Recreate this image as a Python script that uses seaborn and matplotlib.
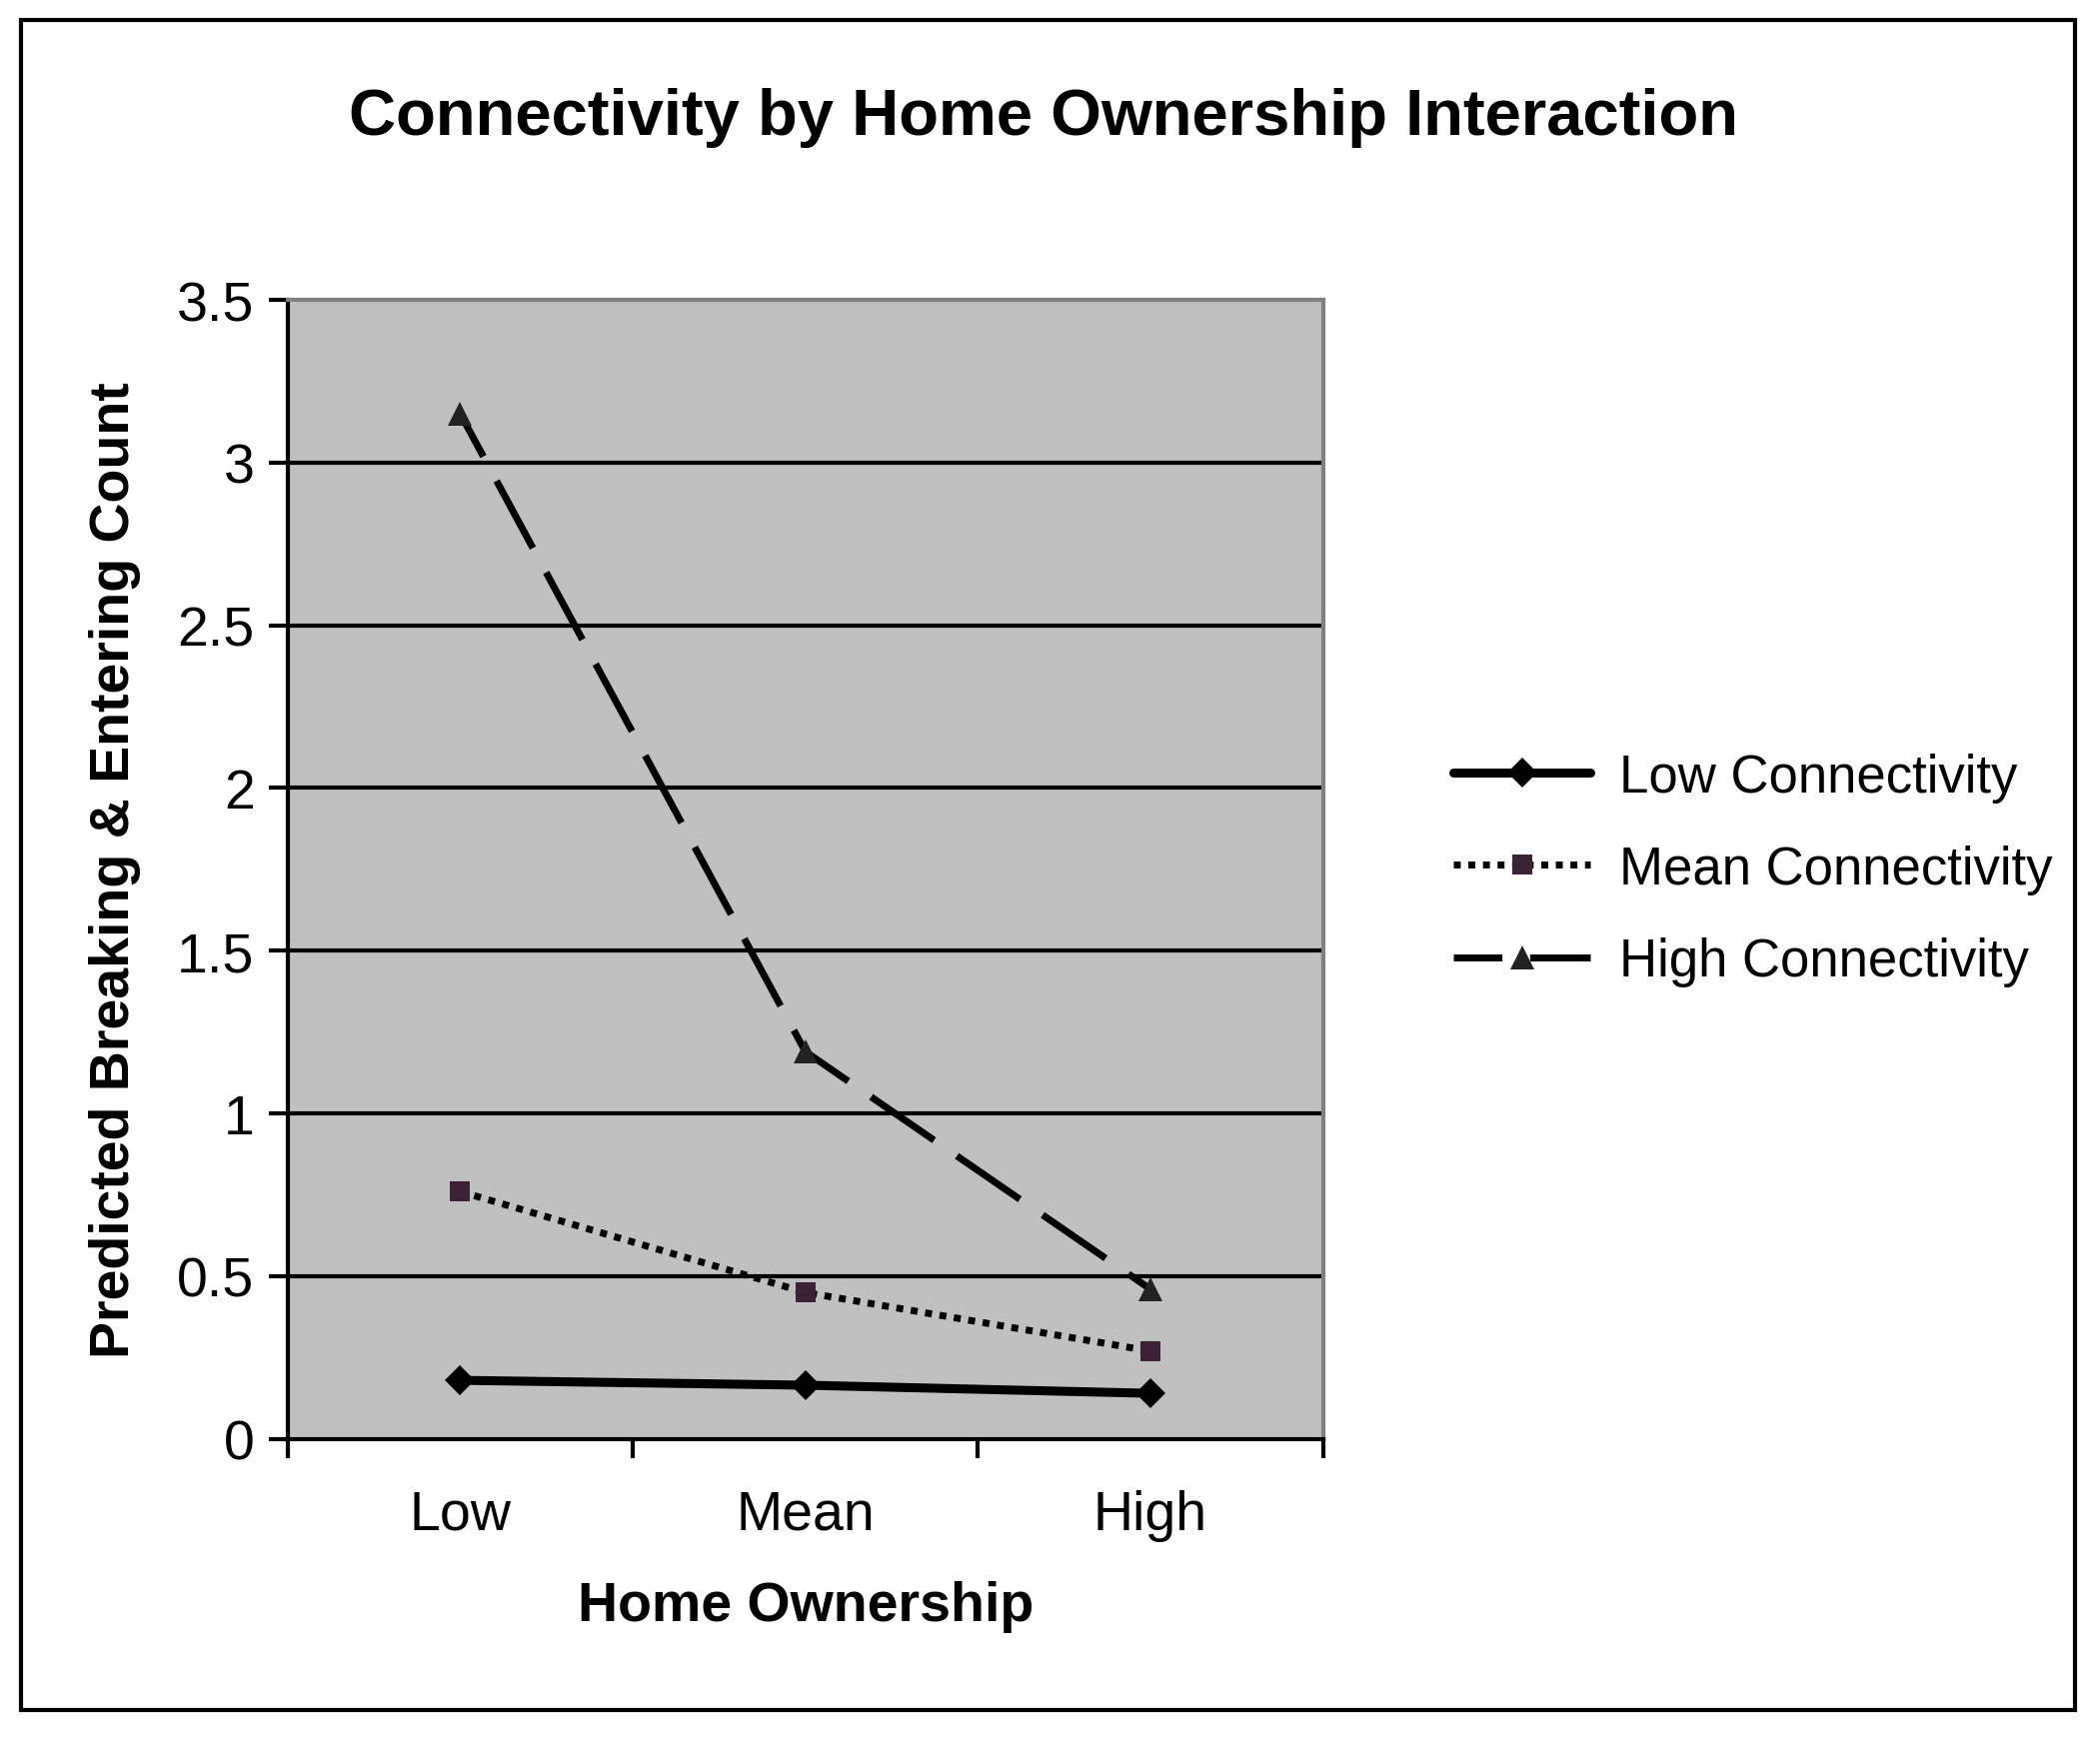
import matplotlib
matplotlib.use("Agg")
import matplotlib.pyplot as plt
import pandas as pd
import seaborn as sns
from matplotlib.patches import Rectangle
from matplotlib.ticker import FixedLocator

# values
home_ownership = ["Low", "Mean", "High"]
low_connectivity = [0.18, 0.165, 0.14]
mean_connectivity = [0.76, 0.45, 0.27]
high_connectivity = [3.15, 1.19, 0.46]
series_names = ["Low Connectivity", "Mean Connectivity", "High Connectivity"]

sns.set_style("white")
plt.rcParams['font.family'] = ['Liberation Sans', 'DejaVu Sans']
for key in ["text.color", "axes.labelcolor", "xtick.color", "ytick.color"]:
    plt.rcParams[key] = "black"

rows = []
for name, vals in zip(series_names, [low_connectivity, mean_connectivity, high_connectivity]):
    for i, (cat, v) in enumerate(zip(home_ownership, vals)):
        rows.append({"pos": i, "Home Ownership": cat, "value": v, "series": name})
df = pd.DataFrame(rows)

fig = plt.figure(figsize=(21.01, 17.40), dpi=100)
ax = fig.add_axes([0.137, 0.172, 0.493, 0.655])
ax.set_facecolor("#c0c0c0")

styles = {
    "Low Connectivity": dict(linestyle="-", marker="D", lw=6.5, ms=15, color="black", mfc="black"),
    "Mean Connectivity": dict(linestyle=(0, (1, 1.1)), marker="s", lw=5, ms=15, color="black", mfc="#3b2236"),
    "High Connectivity": dict(linestyle=(4, (11, 4)), marker="^", lw=5, ms=17, color="black", mfc="#222222"),
}

for name in series_names:
    st = styles[name]
    sub = df[df["series"] == name]
    sns.lineplot(data=sub, x="pos", y="value", ax=ax, label=name,
                 color=st["color"], linestyle=st["linestyle"], lw=st["lw"],
                 marker=st["marker"], markersize=st["ms"], markerfacecolor=st["mfc"],
                 markeredgecolor=st["mfc"], markeredgewidth=0)

ax.set_xlim(-0.5, 2.5)
ax.set_ylim(0, 3.5)
ax.set_yticks([0, 0.5, 1, 1.5, 2, 2.5, 3, 3.5])
ax.set_yticklabels(["0", "0.5", "1", "1.5", "2", "2.5", "3", "3.5"], fontsize=40)
ax.xaxis.set_major_locator(FixedLocator([-0.5, 0.5, 1.5, 2.5]))
ax.set_xticklabels([])
ax.xaxis.set_minor_locator(FixedLocator([0, 1, 2]))
ax.set_xticklabels(home_ownership, minor=True, fontsize=40)
ax.tick_params(axis="x", which="minor", length=0, pad=36)
ax.tick_params(axis="x", which="major", length=14, width=3, direction="out", color="black", bottom=True)
ax.tick_params(axis="y", length=14, width=3, direction="out", color="black", left=True, pad=10)

for y in [0.5, 1, 1.5, 2, 2.5, 3]:
    ax.axhline(y, color="black", lw=3, zorder=1)

for s in ["left", "bottom"]:
    ax.spines[s].set_color("black")
    ax.spines[s].set_linewidth(3)
for s in ["top", "right"]:
    ax.spines[s].set_color("#808080")
    ax.spines[s].set_linewidth(3)

ax.set_xlabel("Home Ownership", fontsize=40, fontweight="bold", labelpad=28)
ax.set_ylabel("Predicted Breaking & Entering Count", fontsize=40, fontweight="bold", labelpad=26)

fig.text(0.497, 0.932, "Connectivity by Home Ownership Interaction",
         ha="center", va="center", fontsize=47, fontweight="bold")

leg = ax.legend(loc="center left", bbox_to_anchor=(1.08, 0.5), frameon=False,
                fontsize=38, handlelength=2.6, labelspacing=0.8, handletextpad=0.55)

fig.add_artist(Rectangle((0.01, 0.016), 0.978, 0.972, transform=fig.transFigure,
                         fill=False, edgecolor="black", lw=3))

fig.savefig("out.png", dpi=100, facecolor="white")
